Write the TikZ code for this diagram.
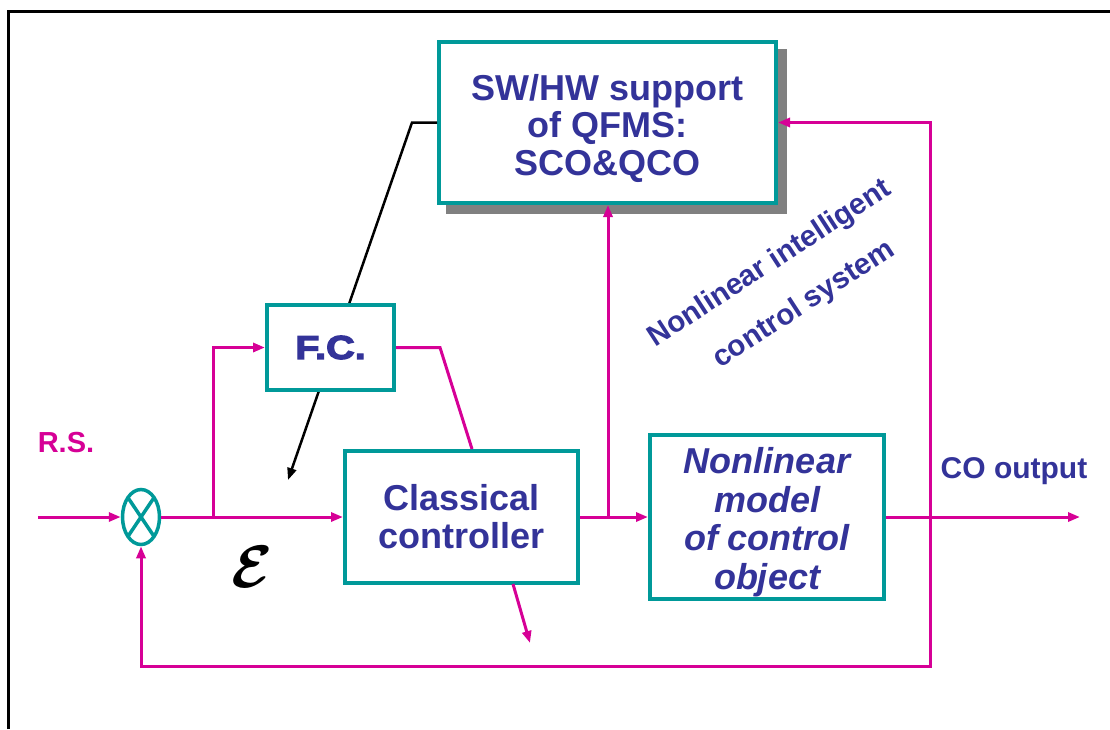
\documentclass[tikz,border=0pt]{standalone}
\usepackage{amsmath}
\usepackage{fontspec}
\setmainfont{Liberation Sans}
\newfontfamily\heavyfont{Liberation Sans}[BoldFeatures={FakeBold=4,FakeStretch=1.2}]
\usetikzlibrary{arrows.meta,shapes.geometric,calc}
\definecolor{tealc}{RGB}{0,153,153}
\definecolor{magc}{RGB}{214,0,150}
\definecolor{dblue}{RGB}{51,51,153}
\definecolor{shadec}{RGB}{128,128,128}

\begin{document}
\begin{tikzpicture}[x=1pt,y=-1pt,
  block/.style={draw=tealc, line width=4pt, fill=white, inner sep=0pt,
    align=center, text=dblue},
  bigtext/.style={font=\bfseries\fontsize{36}{38}\selectfont},
  swtext/.style={font=\bfseries\fontsize{36}{37.5}\selectfont},
  italtext/.style={font=\bfseries\itshape\fontsize{36}{38.5}\selectfont},
  midtext/.style={text=dblue, font=\bfseries\fontsize{29.5}{32}\selectfont},
  sig/.style={draw=magc, line width=3pt},
  sigarrow/.style={sig, -{Triangle[length=12pt,width=9pt]}},
  blackarrow/.style={draw=black, line width=2.5pt, -{Triangle[length=12pt,width=9pt]}},
  sumnode/.style={ellipse, draw=tealc, line width=3.5pt, minimum width=37pt,
    minimum height=55pt, inner sep=0pt,
    path picture={\draw[tealc, line width=3.5pt]
      (path picture bounding box.north west) -- (path picture bounding box.south east)
      (path picture bounding box.north east) -- (path picture bounding box.south west);}}
]
\useasboundingbox (0,0) rectangle (1110,729);

% outer frame (top and left edges)
\draw[line width=3pt] (8,729) -- (8,11) -- (1110,11);

% shadow and the software/hardware block
\fill[shadec] (446,49) rectangle (787,214);
\node[block, swtext, minimum width=337pt, minimum height=161pt] (sw) at (607.5,122.5)
  {\rule{0pt}{38pt}SW/HW support\\of QFMS:\\SCO\&QCO};

% tuning link from the SW/HW block, passing behind F.C.
\coordinate (k1) at (412,122.5);
\coordinate (k2) at (288,480);
\draw[blackarrow] (sw.west) -- (k1) -- (k2);

% blocks
\node[block, minimum width=127pt, minimum height=85pt,
  font=\heavyfont\bfseries\fontsize{33}{36}\selectfont] (fc) at (330.5,347.5) {F.C.};
\node[block, bigtext, minimum width=233pt, minimum height=132pt] (cc) at (461.5,517)
  {Classical\\controller};
\node[block, italtext, minimum width=234pt, minimum height=164pt] (nm) at (767,517)
  {\rule{0pt}{36pt}Nonlinear\\model\\of control\\object};
\node[sumnode] (sum) at (141,517) {};

% labels
\node[text=magc, font=\bfseries\fontsize{29}{32}\selectfont] (rs) at (66,443) {R.S.};
\node[midtext, font=\bfseries\fontsize{30}{32}\selectfont] (co) at (1014,471) {CO output};
\node[scale=6] (eps) at (252,567) {$\boldsymbol{\mathcal{E}}$};
\node[midtext, rotate=33] (t1) at (770,264) {Nonlinear intelligent};
\node[midtext, rotate=33] (t2) at (804,305) {control system};

% signal routing
\coordinate (in) at (38,517);
\coordinate (b1) at (213,517);
\coordinate (fcb) at (440,347.5);
\coordinate (cct) at (472,449);
\coordinate (b2) at (608,517);
\coordinate (b3) at (930,517);
\coordinate (out) at (1080,517);
\coordinate (fb) at (930,666);
\coordinate (ccb) at (513,584);
\coordinate (cce) at (530,643);

\draw[sigarrow] (in) -- (sum.west);
\draw[sigarrow] (sum.east) -- (cc.west);
\draw[sigarrow] (b1) |- (fc.west);
\draw[sig] (fc.east) -- (fcb) -- (cct);
\draw[sigarrow] (cc.east) -- (nm.west);
\draw[sigarrow] (b2) -- (b2 |- sw.south);
\draw[sigarrow] (nm.east) -- (out);
\draw[sigarrow] (b3) |- (sw.east);
\draw[sigarrow] (b3) -- (fb) -| (sum.south);
\draw[sigarrow] (ccb) -- (cce);
\end{tikzpicture}
\end{document}
